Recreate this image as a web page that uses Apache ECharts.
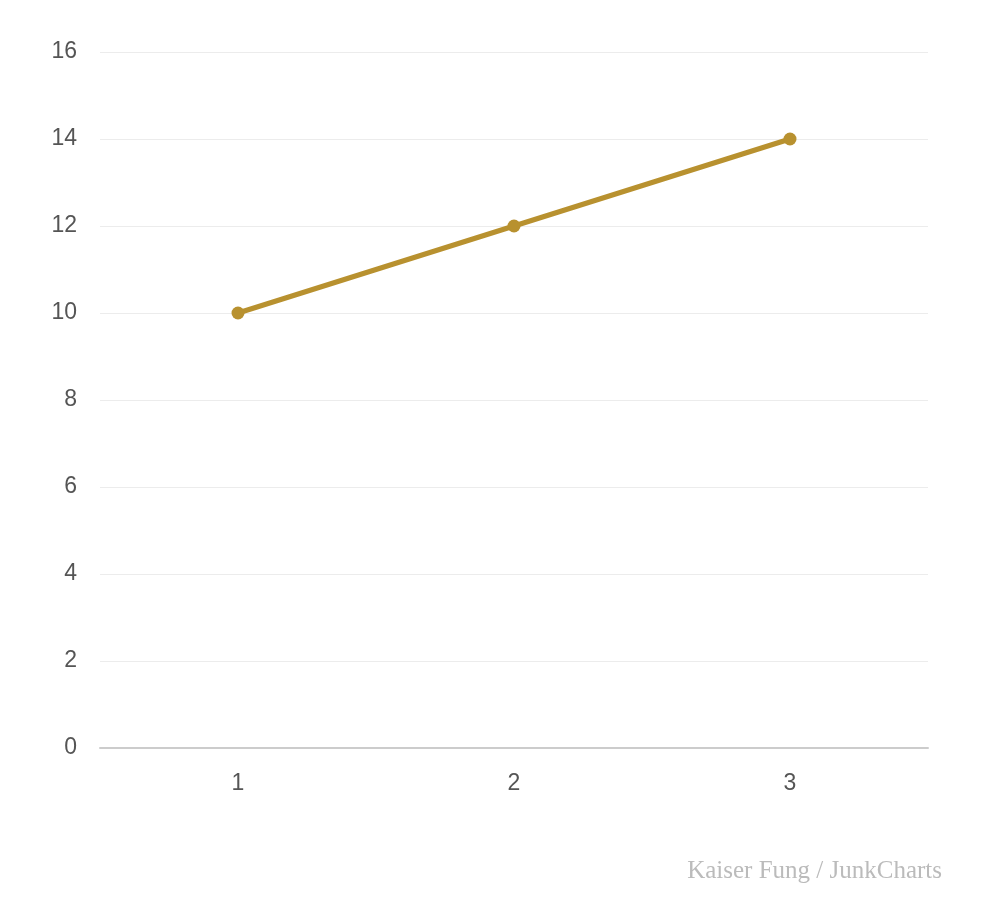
<!DOCTYPE html>
<html lang="en">
<head>
  <meta charset="UTF-8">
  <title>line</title>
  <style>
    html, body { margin:0; padding:0; background:#fff; }
    #chart { width:986px; height:924px; }
  </style>
</head>
<body>
  <div id="chart"></div>
  <script src="https://cdn.jsdelivr.net/npm/echarts@6/dist/echarts.min.js"></script>
  <script>
    var categories = ['1', '2', '3']
    var values = [10, 12, 14]
    var yTicks = { min: 0, max: 16, interval: 2 }

    var myChart = echarts.init(document.getElementById('chart'))
    var option = {
      animation: false,
      grid: { left: 100, right: 58, top: 52, bottom: 176, containLabel: false },
      xAxis: {
        type: 'category',
        data: categories,
        boundaryGap: true,
        axisTick: { show: false },
        axisLine: { lineStyle: { color: '#cccccc', width: 2 } },
        axisLabel: { color: '#555', fontSize: 23, margin: 24, fontFamily: 'Liberation Sans, Arial, sans-serif' }
      },
      yAxis: {
        type: 'value',
        min: yTicks.min,
        max: yTicks.max,
        interval: yTicks.interval,
        axisLine: { show: false },
        axisTick: { show: false },
        splitLine: { lineStyle: { color: '#ececec', width: 1 } },
        axisLabel: { color: '#555', fontSize: 23, margin: 23, padding: [4, 0, 0, 0], fontFamily: 'Liberation Sans, Arial, sans-serif' }
      },
      series: [{
        type: 'line',
        data: values,
        symbol: 'circle',
        symbolSize: 13,
        lineStyle: { color: '#b8912f', width: 5 },
        itemStyle: { color: '#b8912f' }
      }],
      graphic: [{
        type: 'text',
        right: 44,
        top: 859,
        style: {
          text: 'Kaiser Fung / JunkCharts',
          fill: '#bbbbbb',
          font: '25px "Liberation Serif", "DejaVu Serif", serif'
        }
      }]
    }
    myChart.setOption(option)
  </script>
</body>
</html>
